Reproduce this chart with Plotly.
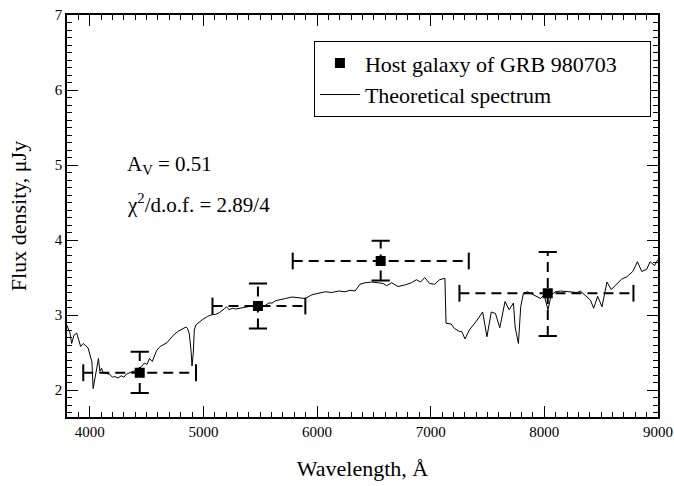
import plotly.graph_objects as go

# ---- data ----
wave = [3800, 3826, 3841, 3861, 3885, 3908, 3920, 3943, 3966, 3986, 4007, 4019, 4030, 4055, 4077,
        4089, 4104, 4118, 4140, 4176, 4200, 4220, 4249, 4278, 4300, 4322, 4366, 4410, 4453, 4482,
        4503, 4526, 4550, 4570, 4590, 4620, 4649, 4678, 4707, 4736, 4774, 4818, 4847, 4861, 4876,
        4891, 4900, 4911, 4920, 4935, 4964, 4993, 5036, 5066, 5110, 5139, 5182, 5203, 5226, 5255,
        5285, 5328, 5372, 5416, 5460, 5503, 5547, 5576, 5605, 5635, 5678, 5722, 5780, 5839, 5897,
        5955, 6014, 6072, 6130, 6189, 6247, 6291, 6335, 6378, 6422, 6480, 6539, 6582, 6612, 6656,
        6713, 6772, 6830, 6874, 6912, 6947, 6991, 7035, 7078, 7125, 7135, 7180, 7209, 7253, 7273,
        7302, 7340, 7398, 7457, 7495, 7533, 7570, 7608, 7654, 7690, 7728, 7743, 7772, 7792, 7816,
        7851, 7894, 7938, 7967, 7997, 8032, 8061, 8098, 8142, 8215, 8250, 8288, 8317, 8346, 8376,
        8405, 8434, 8469, 8507, 8551, 8588, 8638, 8682, 8726, 8778, 8819, 8857, 8901, 8930, 8970,
        9000]
flux = [2.86, 2.76, 2.62, 2.73, 2.76, 2.64, 2.58, 2.62, 2.58, 2.56, 2.44, 2.38, 2.02, 2.25, 2.42,
        2.25, 2.29, 2.23, 2.22, 2.21, 2.17, 2.18, 2.16, 2.19, 2.17, 2.21, 2.24, 2.26, 2.31, 2.36,
        2.34, 2.42, 2.38, 2.47, 2.53, 2.58, 2.60, 2.63, 2.68, 2.73, 2.78, 2.82, 2.84, 2.82, 2.75,
        2.53, 2.32, 2.49, 2.80, 2.87, 2.91, 2.94, 2.98, 3.00, 3.01, 3.03, 3.08, 3.11, 3.07, 3.09,
        3.08, 3.09, 3.10, 3.12, 3.13, 3.11, 3.13, 3.16, 3.16, 3.19, 3.21, 3.22, 3.24, 3.23, 3.22,
        3.27, 3.29, 3.31, 3.30, 3.32, 3.31, 3.33, 3.32, 3.41, 3.43, 3.44, 3.43, 3.42, 3.39, 3.43,
        3.38, 3.40, 3.43, 3.47, 3.44, 3.50, 3.42, 3.41, 3.47, 3.49, 2.89, 2.88, 2.82, 2.78, 2.78,
        2.68, 2.80, 2.91, 3.04, 2.71, 3.04, 3.02, 2.83, 3.18, 3.07, 3.16, 2.84, 2.62, 3.11, 3.29,
        3.31, 3.28, 3.25, 3.22, 3.27, 3.07, 3.27, 3.31, 3.32, 3.31, 3.31, 3.30, 3.32, 3.28, 3.25,
        3.20, 3.09, 3.25, 3.11, 3.44, 3.34, 3.42, 3.48, 3.51, 3.58, 3.71, 3.58, 3.61, 3.71, 3.66,
        3.74]

obs_wave = [4440, 5480, 6560, 8030]
obs_flux = [2.23, 3.12, 3.72, 3.29]
obs_wave_lo = [3943, 5080, 5786, 7253]
obs_wave_hi = [4935, 5897, 7335, 8784]
obs_flux_lo = [1.96, 2.82, 3.46, 2.72]
obs_flux_hi = [2.51, 3.42, 3.99, 3.84]

x_ticks = [4000, 5000, 6000, 7000, 8000, 9000]
y_ticks = [2, 3, 4, 5, 6, 7]
x_range = [3800, 9000]
y_range = [1.64, 7]

FONT = "Times New Roman, Liberation Serif, serif"
PAD = "\u00a0" * 5

fig = go.Figure()

fig.add_trace(go.Scatter(x=wave, y=flux, mode="lines", name="Theoretical spectrum" + PAD,
                         line=dict(color="black", width=1), legendrank=2))

# dashed error bars
hx, hy, vx, vy = [], [], [], []
for i in range(len(obs_wave)):
    hx += [obs_wave_lo[i], obs_wave_hi[i], None]
    hy += [obs_flux[i], obs_flux[i], None]
    vx += [obs_wave[i], obs_wave[i], None]
    vy += [obs_flux_lo[i], obs_flux_hi[i], None]
fig.add_trace(go.Scatter(x=hx, y=hy, mode="lines", showlegend=False,
                         line=dict(color="black", width=2, dash="10px,6px")))
fig.add_trace(go.Scatter(x=vx, y=vy, mode="lines", showlegend=False,
                         line=dict(color="black", width=2, dash="10px,6px")))
# caps
fig.add_trace(go.Scatter(x=obs_wave_lo + obs_wave_hi, y=obs_flux + obs_flux, mode="markers",
                         showlegend=False,
                         marker=dict(symbol="line-ns", size=12, line=dict(color="black", width=2))))
fig.add_trace(go.Scatter(x=obs_wave + obs_wave, y=obs_flux_lo + obs_flux_hi, mode="markers",
                         showlegend=False,
                         marker=dict(symbol="line-ew", size=13, line=dict(color="black", width=2))))

fig.add_trace(go.Scatter(x=obs_wave, y=obs_flux, mode="markers",
                         name="Host galaxy of GRB 980703" + PAD,
                         marker=dict(symbol="square", size=10, color="black"), legendrank=1))

# invisible trace to carry the mirrored (top/right) tick axes
fig.add_trace(go.Scatter(x=[None], y=[None], xaxis="x2", yaxis="y2", showlegend=False,
                         hoverinfo="skip"))

tick_common = dict(showgrid=False, zeroline=False, ticks="inside", tickcolor="black",
                   ticklen=11, tickwidth=1, automargin=False,
                   tickfont=dict(family=FONT, size=15, color="black"))

fig.update_layout(
    xaxis=dict(range=x_range, tickvals=x_ticks, ticktext=[str(v) for v in x_ticks],
               showline=True, linecolor="black", linewidth=1.5, mirror=True,
               minor=dict(ticks="inside", ticklen=5, dtick=100, tick0=3800, tickcolor="black"),
               title=dict(text="Wavelength, Å", font=dict(family=FONT, size=22, color="black"),
                          standoff=22),
               **tick_common),
    yaxis=dict(range=y_range, tickvals=y_ticks, ticktext=[str(v) for v in y_ticks],
               showline=True, linecolor="black", linewidth=1.5, mirror=True,
               minor=dict(ticks="inside", ticklen=5, dtick=0.1, tick0=0, tickcolor="black"),
               title=dict(text="Flux density, μJy", font=dict(family=FONT, size=22, color="black"),
                          standoff=22),
               **tick_common),
    xaxis2=dict(range=x_range, tickvals=x_ticks, overlaying="x", side="top", anchor="y",
                showticklabels=False, showline=False,
                minor=dict(ticks="inside", ticklen=5, dtick=100, tick0=3800, tickcolor="black"),
                **tick_common),
    yaxis2=dict(range=y_range, tickvals=y_ticks, overlaying="y", side="right", anchor="x",
                showticklabels=False, showline=False,
                minor=dict(ticks="inside", ticklen=5, dtick=0.1, tick0=0, tickcolor="black"),
                **tick_common),
)

fig.add_annotation(xref="paper", yref="paper", x=0.098, y=0.628, xanchor="left", yanchor="middle",
                   text="A<sub>V</sub> = 0.51", showarrow=False,
                   font=dict(family=FONT, size=21, color="black"))
fig.add_annotation(xref="paper", yref="paper", x=0.098, y=0.532, xanchor="left", yanchor="middle",
                   text="χ<sup>2</sup>/d.o.f. = 2.89/4", showarrow=False,
                   font=dict(family=FONT, size=21, color="black"))

fig.update_layout(
    width=674, height=486,
    margin=dict(l=67, r=16, t=15, b=69),
    plot_bgcolor="white", paper_bgcolor="white",
    showlegend=True,
    legend=dict(x=0.988, y=0.935, xanchor="right", yanchor="top",
                bordercolor="black", borderwidth=1, bgcolor="white",
                font=dict(family=FONT, size=22, color="black"),
                tracegroupgap=0, itemwidth=40),
)

fig.write_html("out.html")
